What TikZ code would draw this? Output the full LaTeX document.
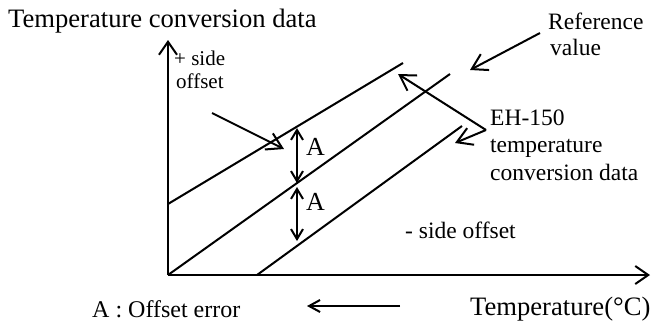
\documentclass[tikz,border=0pt]{standalone}
\usepackage{fontspec}
\setmainfont{Liberation Serif}
\usetikzlibrary{arrows.meta}
\begin{document}
\begin{tikzpicture}[x=1pt,y=-1pt,
  ln/.style={line width=2pt},
  lbl/.style={inner sep=0pt, anchor=base west},
  big/.style={font=\fontsize{26.6}{28}\selectfont},
  mid/.style={font=\fontsize{23.5}{26}\selectfont},
  sml/.style={font=\fontsize{21}{23}\selectfont},
  axisarrow/.style={ln,-{Straight Barb[length=13pt,width=18pt]}},
  ptr/.style={ln,-{Straight Barb[length=15pt,width=18pt]}},
  smallptr/.style={ln,-{Straight Barb[length=11pt,width=12pt]}},
  dbl/.style={ln,{Straight Barb[length=10pt,width=12pt]}-{Straight Barb[length=10pt,width=12pt]}},
]
\useasboundingbox (0,0) rectangle (651,325);
% axes
\coordinate (O) at (168,275);
\coordinate (Ytop) at (168,40);
\coordinate (Xend) at (650,275);
\draw[axisarrow] (O) -- (Ytop);
\draw[axisarrow] (O) -- (Xend);
% data lines
\coordinate (U0) at (168,204);
\coordinate (U1) at (403,63);
\coordinate (R1) at (450,74);
\coordinate (L0) at (257,275);
\coordinate (L1) at (462,126);
\draw[ln] (U0) -- (U1);
\draw[ln] (O) -- (R1);
\draw[ln] (L0) -- (L1);
% offset arrows
\coordinate (A1t) at (297,128);
\coordinate (A1b) at (297,183);
\coordinate (A2t) at (297,187);
\coordinate (A2b) at (297,241);
\draw[dbl] (A1t) -- (A1b);
\draw[dbl] (A2t) -- (A2b);
% pointers
\coordinate (P0) at (212,113);
\coordinate (P1) at (284,149);
\draw[ptr] (P0) -- (P1);
\coordinate (Q0) at (540,33);
\coordinate (Q1) at (470,70);
\draw[ptr] (Q0) -- (Q1);
\coordinate (E0) at (486,130);
\coordinate (E1) at (398,74);
\coordinate (E2) at (455,143);
\draw[ptr] (E0) -- (E1);
\draw[ptr] (E0) -- (E2);
\coordinate (B0) at (400,306);
\coordinate (B1) at (307,306);
\draw[smallptr] (B0) -- (B1);
% texts
\node[lbl,big] (title) at (8,27) {Temperature conversion data};
\node[lbl,big] (xlabel) at (470,315) {Temperature(°C)};
\node[lbl,font=\fontsize{24}{26}\selectfont] (offerr) at (92,317) {A : Offset error};
\node[lbl,sml] (plus1) at (174,65) {+ side};
\node[lbl,sml] (plus2) at (176,88) {offset};
\node[lbl,mid] (ref1) at (548,29) {Reference};
\node[lbl,mid] (ref2) at (550,55) {value};
\node[lbl,mid] (eh1) at (490,125) {EH-150};
\node[lbl,mid] (eh2) at (490,152) {temperature};
\node[lbl,mid] (eh3) at (490,180) {conversion data};
\node[lbl,mid] (minus) at (405,238) {- side offset};
\node[lbl,font=\fontsize{26}{28}\selectfont] (A1) at (306,155) {A};
\node[lbl,font=\fontsize{26}{28}\selectfont] (A2) at (306,210) {A};
\end{tikzpicture}
\end{document}
